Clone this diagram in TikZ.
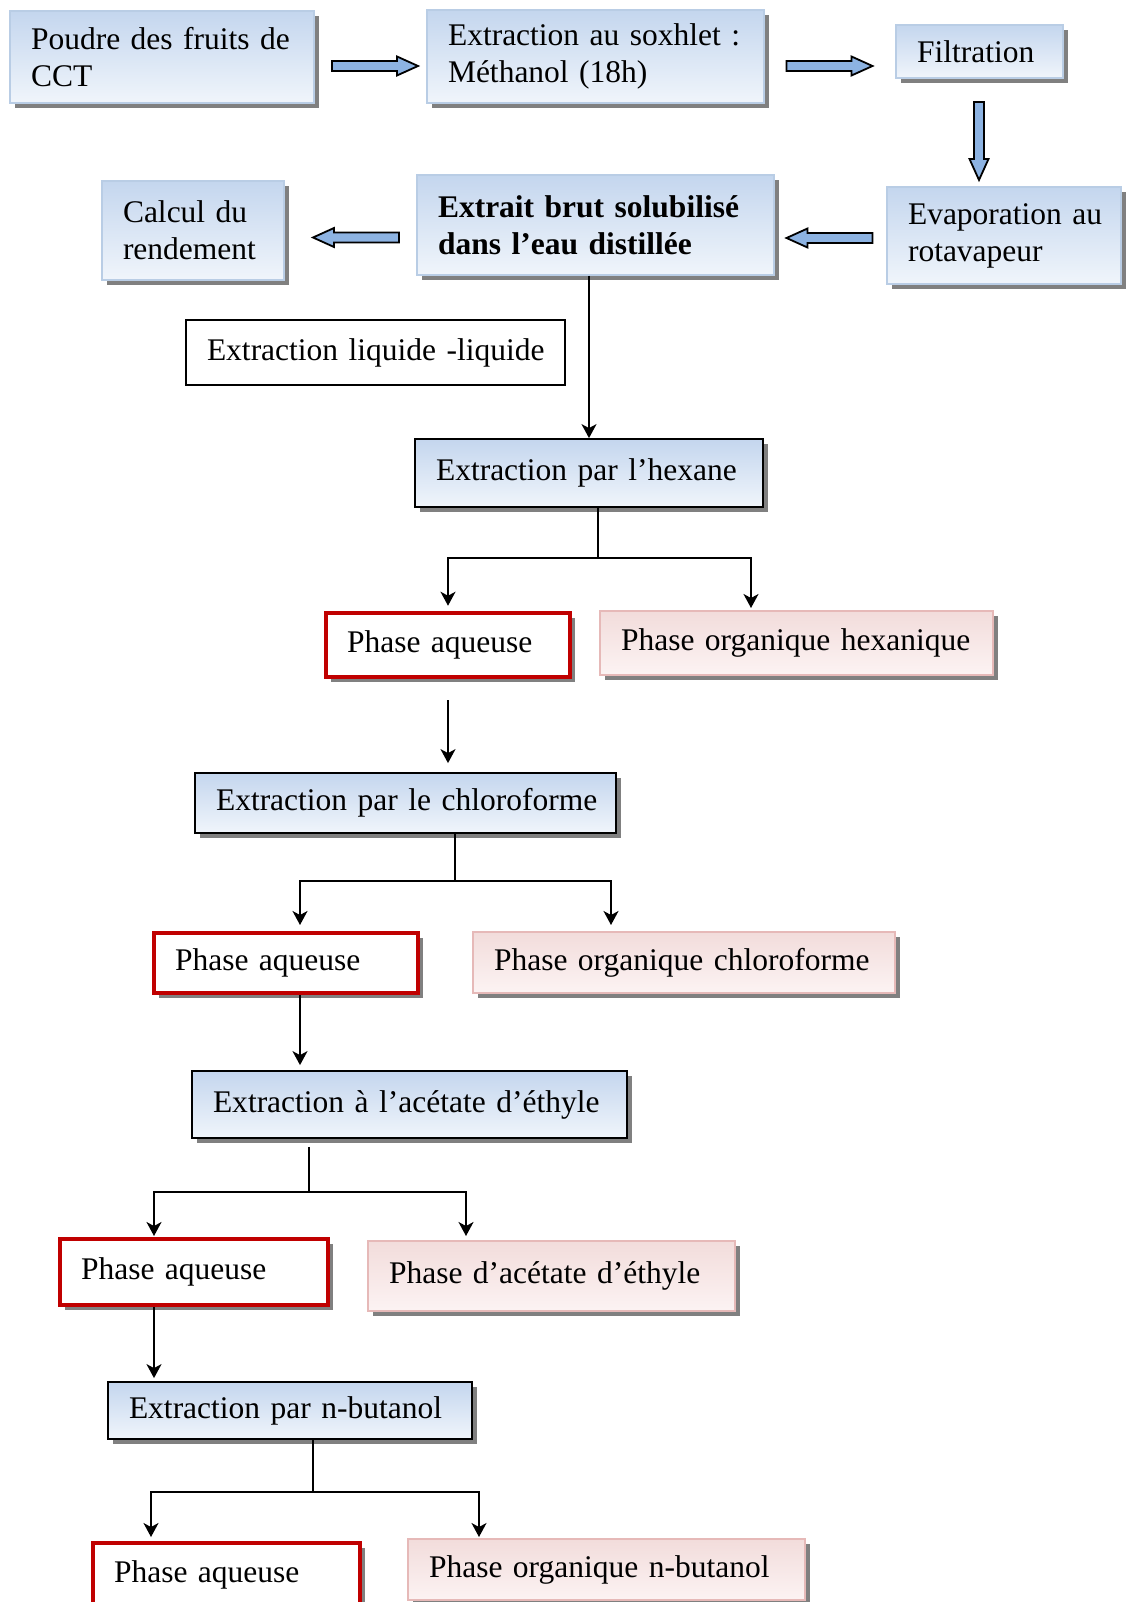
\documentclass[tikz,border=0pt]{standalone}
\usepackage{fontspec}
\setmainfont{Liberation Serif}
\usetikzlibrary{shapes,arrows.meta,shadows}
\definecolor{boxtop}{HTML}{C4D6EE}
\definecolor{boxbot}{HTML}{F0F5FB}
\definecolor{boxline}{HTML}{B9CDE5}
\definecolor{pinktop}{HTML}{F2DCDB}
\definecolor{pinkbot}{HTML}{FCF3F3}
\definecolor{pinkline}{HTML}{E6B9B8}
\definecolor{redline}{HTML}{C00000}
\definecolor{arrowblue}{HTML}{8DB3E2}
\definecolor{shadowgray}{HTML}{808080}

\tikzset{
  pics/blockarrow/.style={code={
    \draw[line width=1.8pt, fill=arrowblue, line join=miter]
      (-#1,-5) -- ({#1-21},-5) -- ({#1-21},-9.5) -- (#1,0) -- ({#1-21},9.5) -- ({#1-21},5) -- (-#1,5) -- cycle;
  }}
}

\begin{document}
\begin{tikzpicture}[x=1pt,y=1pt,yscale=-1,xscale=1,
  every node/.style={font=\fontsize{31.5}{37}\selectfont, inner xsep=21pt, inner ysep=0pt,
    execute at begin node={\parindent=0pt\leftskip=0pt\rightskip=0pt plus 1fil minus 40pt}},
  sh/.style={drop shadow={shadow xshift=5pt,shadow yshift=-5pt,fill=shadowgray,opacity=1}},
  bluebox/.style={sh, draw=boxline, line width=1.2pt, top color=boxtop, bottom color=boxbot},
  blackbox/.style={sh, draw=black, line width=1.8pt, top color=boxtop, bottom color=boxbot},
  redbox/.style={sh, draw=redline, line width=4.5pt, fill=white},
  pinkbox/.style={sh, draw=pinkline, line width=1.5pt, top color=pinktop, bottom color=pinkbot},
  plainbox/.style={draw=black, line width=1.8pt, fill=white},
  arr/.style={-{Stealth[length=14pt,width=15pt,inset=4pt]}, line width=1.8pt},
]
\useasboundingbox (0,0) rectangle (1125,1602);

% Top row
\node[bluebox, minimum width=304pt, minimum height=92pt, text width=262pt] (poudre) at (162,57) {Poudre des fruits de\\CCT};
\node[bluebox, minimum width=337pt, minimum height=93pt, text width=295pt] (soxhlet) at (595.5,56.5) {Extraction au soxhlet :\\M\'ethanol (18h)};
\node[bluebox, minimum width=167pt, minimum height=53pt, text width=125pt] (filtration) at (979.5,51.5) {Filtration};

% Second row
\node[bluebox, minimum width=234pt, minimum height=97pt, text width=192pt] (evap) at (1004,235.5) {Evaporation au\\rotavapeur};
\node[bluebox, minimum width=357pt, minimum height=100pt, text width=315pt] (extrait) at (595.5,225) {\textbf{Extrait brut solubilis\'e}\\\textbf{dans l'eau distill\'ee}};
\node[bluebox, minimum width=182pt, minimum height=99pt, text width=140pt] (calcul) at (193,230.5) {Calcul du\\rendement};

% Block arrows
\pic at (375,66) {blockarrow=43};
\pic at (829.5,66) {blockarrow=43};
\pic[rotate=-90] at (979,141) {blockarrow=39};
\pic[rotate=180] at (829.5,238) {blockarrow=43};
\pic[rotate=180] at (356,237.5) {blockarrow=43};

% Text Node
\node[plainbox, minimum width=379pt, minimum height=65pt, text width=337pt] (liquide) at (375.5,352.5) {Extraction liquide -liquide};

% Hexane
\node[blackbox, minimum width=348pt, minimum height=68pt, text width=306pt] (hexane) at (589,473) {Extraction par l'hexane};
\node[redbox, minimum width=244pt, minimum height=64pt, text width=202pt] (pa1) at (448,645) {Phase aqueuse};
\node[pinkbox, minimum width=393pt, minimum height=64pt, text width=351pt] (orghex) at (796.5,643) {Phase organique hexanique};

% Chloroforme
\node[blackbox, minimum width=421pt, minimum height=60pt, text width=379pt] (chloro) at (405.5,803) {Extraction par le chloroforme};
\node[redbox, minimum width=264pt, minimum height=60pt, text width=222pt] (pa2) at (286,963) {Phase aqueuse};
\node[pinkbox, minimum width=422pt, minimum height=61pt, text width=380pt] (orgchloro) at (684,962.5) {Phase organique chloroforme};

% Acetate d'ethyle
\node[blackbox, minimum width=435pt, minimum height=67pt, text width=393pt] (acetate) at (409.5,1104.5) {Extraction \`a l'ac\'etate d'\'ethyle};
\node[redbox, minimum width=268pt, minimum height=66pt, text width=226pt] (pa3) at (194,1272) {Phase aqueuse};
\node[pinkbox, minimum width=367pt, minimum height=70pt, text width=325pt] (orgacet) at (551.5,1276) {Phase d'ac\'etate d'\'ethyle};

% n-butanol
\node[blackbox, minimum width=364pt, minimum height=57pt, text width=322pt] (butanol) at (290,1410.5) {Extraction par n-butanol};
\node[redbox, minimum width=267pt, minimum height=64pt, text width=225pt] (pa4) at (226.5,1575) {Phase aqueuse};
\node[pinkbox, minimum width=397pt, minimum height=61pt, text width=355pt] (orgbut) at (606.5,1569.5) {Phase organique n-butanol};

% fork points
\coordinate (h1) at (598,558);
\coordinate (h2) at (751,608);
\coordinate (c1) at (455,881);
\coordinate (c2) at (300,925);
\coordinate (c3) at (611,925);
\coordinate (e1) at (309,1192);
\coordinate (e2) at (154,1236);
\coordinate (e3) at (466,1236);
\coordinate (b1) at (313,1492);
\coordinate (b2) at (151,1537);
\coordinate (b3) at (479,1537);

%Straight Lines
\draw[arr] (hexane.north |- extrait.south) -- (hexane.north);

\draw[line width=1.8pt] (hexane.south -| h1) -- (h1);
\draw[arr, shorten >=5pt] (h1) -| (pa1.north);
\draw[arr] (h1) -| (h2);
\draw[arr, shorten <=21pt, shorten >=9pt] (pa1.south) -- (pa1.south |- chloro.north);

\draw[line width=1.8pt] (chloro.south -| c1) -- (c1);
\draw[arr] (c1) -| (c2);
\draw[arr] (c1) -| (c3);
\draw[arr, shorten >=5pt] (c2 |- pa2.south) -- (c2 |- acetate.north);

\draw[line width=1.8pt, shorten <=8pt] (acetate.south -| e1) -- (e1);
\draw[arr] (e1) -| (e2);
\draw[arr] (e1) -| (e3);
\draw[arr, shorten >=3pt] (e2 |- pa3.south) -- (e2 |- butanol.north);

\draw[line width=1.8pt] (butanol.south -| b1) -- (b1);
\draw[arr] (b1) -| (b2);
\draw[arr] (b1) -| (b3);

\end{tikzpicture}
\end{document}
